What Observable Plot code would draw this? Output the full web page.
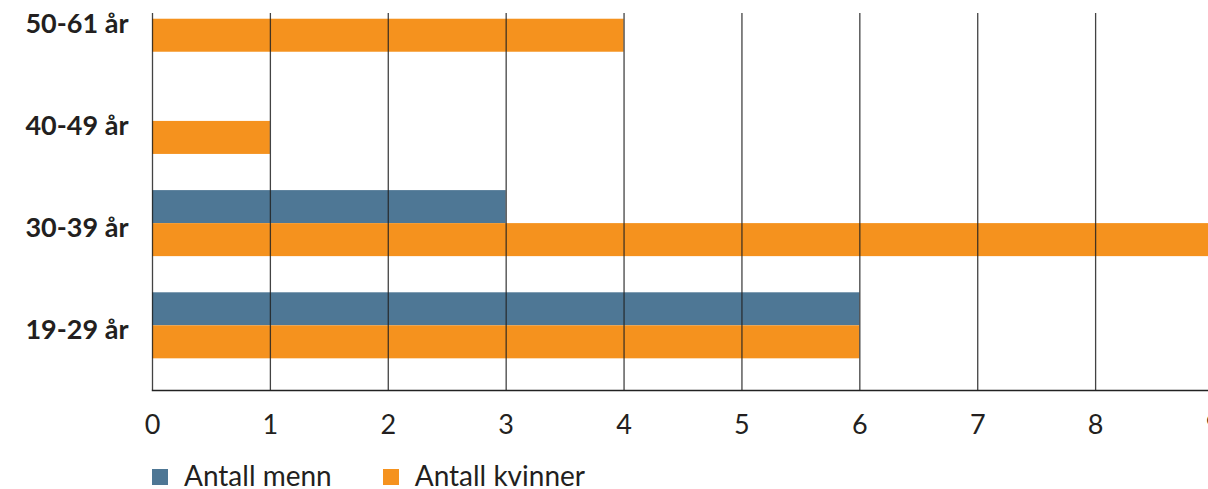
<!DOCTYPE html>
<html>
<head>
<meta charset="utf-8">
<script src="https://cdn.jsdelivr.net/npm/d3@7"></script>
<script src="https://cdn.jsdelivr.net/npm/@observablehq/plot@0.6"></script>
<style>
  html, body { margin: 0; padding: 0; background: #fff; overflow: hidden; width: 1208px; height: 489px; }
  #chart { width: 1230px; }
  #chart svg { display: block; }
  .legend { margin: 11px 0 0 152px; display: flex; align-items: center; font-family: Lato, "Noto Sans", sans-serif; font-size: 28px; line-height: 28px; height: 28px; color: #231f20; }
  .legend .item { display: flex; align-items: center; margin-right: 51px; }
  .legend .sw { width: 16px; height: 16px; margin-right: 16px; margin-top: 4px; }
</style>
</head>
<body>
<div id="chart"></div>
<script>
const categories = ["50-61 år", "40-49 år", "30-39 år", "19-29 år"];
const series = ["Antall menn", "Antall kvinner"];
const menn = [0, 0, 3, 6];
const kvinner = [4, 1, 9, 6];
const xTicks = [0, 1, 2, 3, 4, 5, 6, 7, 8, 9];
const colors = ["#4e7795", "#f5921e"];

const rows = [];
categories.forEach((c, i) => {
  rows.push({cat: c, i, series: series[0], value: menn[i]});
  rows.push({cat: c, i, series: series[1], value: kvinner[i]});
});
const h = 0.323; // bar thickness in index units

const plot = Plot.plot({
  width: 1230,
  height: 450,
  marginLeft: 152,
  marginRight: 17,
  marginTop: 13,
  marginBottom: 60,
  style: {fontFamily: "Lato, 'Noto Sans', sans-serif", color: "#231f20", background: "#fff"},
  x: {domain: [0, 9]},
  y: {domain: [-0.056, 3.633], reverse: true},
  color: {domain: series, range: colors},
  marks: [
    Plot.rectX(rows.filter(d => d.value > 0), {
      x1: 0, x2: "value",
      y1: d => d.series === series[0] ? d.i - h : d.i,
      y2: d => d.series === series[0] ? d.i : d.i + h,
      fill: "series"
    }),
    Plot.gridX(xTicks, {stroke: "#222", strokeOpacity: 0.85, strokeWidth: 1.3}),
    Plot.frame({anchor: "bottom", stroke: "#222", strokeWidth: 1.5}),
    Plot.axisX(xTicks, {tickSize: 0, tickPadding: 24, fontSize: 27, label: null, fill: "#231f20",
      tickFormat: d3.format("d")}),
    Plot.axisY([0, 1, 2, 3], {tickSize: 0, tickPadding: 24, fontSize: 27, fontWeight: "bold", label: null,
      tickFormat: i => categories[i], dy: 5, fill: "#231f20"})
  ]
});
document.getElementById("chart").appendChild(plot);

const legend = document.createElement("div");
legend.className = "legend";
series.forEach((s, k) => {
  const item = document.createElement("div");
  item.className = "item";
  const sw = document.createElement("span");
  sw.className = "sw";
  sw.style.background = colors[k];
  const t = document.createElement("span");
  t.textContent = s;
  item.appendChild(sw);
  item.appendChild(t);
  legend.appendChild(item);
});
document.getElementById("chart").appendChild(legend);
</script>
</body>
</html>
